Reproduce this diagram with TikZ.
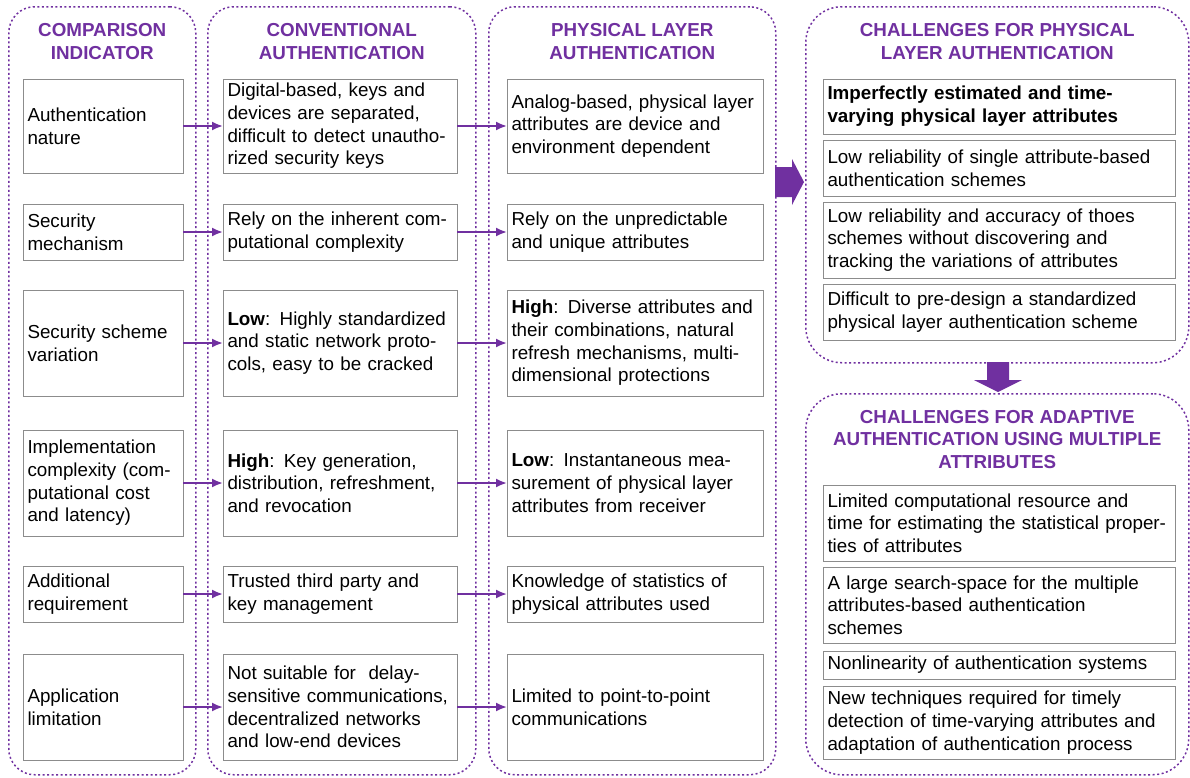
\documentclass[tikz,border=0pt]{standalone}
\usepackage{fontspec}
\setmainfont{Liberation Sans}
\usetikzlibrary{arrows.meta,positioning,calc}
\definecolor{hdpurple}{HTML}{7030A0}
\definecolor{boxgray}{HTML}{8C8C8C}
\newcommand{\cellfont}{\fontsize{18.8}{22.7}\selectfont}
\tikzstyle{cell}=[draw=boxgray, line width=1pt, anchor=north west, align=left,
                  inner xsep=4.5pt, inner ysep=0pt, outer sep=0pt, font=\cellfont]
\tikzstyle{panel}=[draw=hdpurple, line width=1.5pt, dash pattern=on 2pt off 2.5pt,
                   rounded corners=26pt, anchor=north west]
\tikzstyle{head}=[font=\cellfont\bfseries, text=hdpurple, align=center]
\tikzstyle{link}=[draw=hdpurple, line width=2pt, -{Latex[length=11pt,width=9pt]}]
\tikzstyle{block}=[fill=hdpurple]

\begin{document}
\begin{tikzpicture}[x=1pt,y=-1pt]
  \useasboundingbox (0,0) rectangle (1190,777);
  % dotted panels
  \node[panel, minimum width=187pt, minimum height=768pt] (p1) at (8,6) {};
  \node[panel, minimum width=268pt, minimum height=768pt] (p2) at (207,6) {};
  \node[panel, minimum width=287pt, minimum height=768pt] (p3) at (488,6) {};
  \node[panel, rounded corners=36pt, minimum width=383pt, minimum height=356pt] (p4) at (805,6) {};
  \node[panel, rounded corners=36pt, minimum width=383pt, minimum height=381pt] (p5) at (805,393) {};

  \node[head] (h1) at ($(p1.north)+(0,35.5)$) {COMPARISON\\INDICATOR};
  \node[head] (h2) at ($(p2.north)+(0,35.5)$) {CONVENTIONAL\\AUTHENTICATION};
  \node[head] (h3) at ($(p3.north)+(0,35.5)$) {PHYSICAL LAYER\\AUTHENTICATION};
  \node[head] (h4) at ($(p4.north)+(0,35.5)$) {CHALLENGES FOR PHYSICAL\\LAYER AUTHENTICATION};
  \node[head] (h5) at ($(p5.north)+(0,46.5)$) {CHALLENGES FOR ADAPTIVE\\AUTHENTICATION USING MULTIPLE\\ATTRIBUTES};

  % comparison indicators
  \node[cell, text width=151pt, minimum height=94pt] (ci1) at (23,79) {Authentication\\nature};
  \node[cell, text width=151pt, minimum height=56pt] (ci2) at (23,204) {Security\\mechanism};
  \node[cell, text width=151pt, minimum height=106pt] (ci3) at (23,290) {Security scheme\\variation};
  \node[cell, text width=151pt, minimum height=106pt] (ci4) at (23,430) {Implementation\\complexity (com-\\putational cost\\and latency)};
  \node[cell, text width=151pt, minimum height=56pt] (ci5) at (23,566) {Additional\\requirement};
  \node[cell, text width=151pt, minimum height=106pt] (ci6) at (23,654) {Application\\limitation};

  % conventional authentication
  \node[cell, text width=225pt, minimum height=94pt, right=40pt of ci1] (ca1) {Digital-based, keys and\\devices are separated,\\difficult to detect unautho-\\rized security keys};
  \node[cell, text width=225pt, minimum height=56pt, right=40pt of ci2] (ca2) {Rely on the inherent com-\\putational complexity};
  \node[cell, text width=225pt, minimum height=106pt, right=40pt of ci3] (ca3) {\mbox{\textbf{Low}: Highly standardized}\\and static network proto-\\cols, easy to be cracked};
  \node[cell, text width=225pt, minimum height=106pt, right=40pt of ci4] (ca4) {\textbf{High}: Key generation,\\distribution, refreshment,\\and revocation};
  \node[cell, text width=225pt, minimum height=56pt, right=40pt of ci5] (ca5) {Trusted third party and\\key management};
  \node[cell, text width=225pt, minimum height=106pt, right=40pt of ci6] (ca6) {Not suitable for~ delay-\\sensitive communications,\\decentralized networks\\and low-end devices};

  % physical layer authentication
  \node[cell, text width=247pt, minimum height=94pt, right=50pt of ca1] (pa1) {Analog-based, physical layer\\attributes are device and\\environment dependent};
  \node[cell, text width=247pt, minimum height=56pt, right=50pt of ca2] (pa2) {Rely on the unpredictable\\and unique attributes};
  \node[cell, text width=247pt, minimum height=106pt, right=50pt of ca3] (pa3) {\textbf{High}: Diverse attributes and\\their combinations, natural\\refresh mechanisms, multi-\\dimensional protections};
  \node[cell, text width=247pt, minimum height=106pt, right=50pt of ca4] (pa4) {\textbf{Low}: Instantaneous mea-\\surement of physical layer\\attributes from receiver};
  \node[cell, text width=247pt, minimum height=56pt, right=50pt of ca5] (pa5) {Knowledge of statistics of\\physical attributes used};
  \node[cell, text width=247pt, minimum height=106pt, right=50pt of ca6] (pa6) {Limited to point-to-point\\communications};

  \foreach \i in {1,...,6}{
    \draw[link] (ci\i) -- (ca\i);
    \draw[link] (ca\i) -- (pa\i);
  }

  % challenges for physical layer authentication
  \node[cell, text width=343pt, minimum height=55pt, font=\cellfont\bfseries] (cp1) at (823,79) {Imperfectly estimated and time-\\varying physical layer attributes};
  \node[cell, text width=343pt, minimum height=56pt] (cp2) at (823,140) {Low reliability of single attribute-based\\authentication schemes};
  \node[cell, text width=343pt, minimum height=76pt] (cp3) at (823,202) {Low reliability and accuracy of thoes\\schemes without discovering and\\tracking the variations of attributes};
  \node[cell, text width=343pt, minimum height=56pt] (cp4) at (823,284) {Difficult to pre-design a standardized\\physical layer authentication scheme};

  % challenges for adaptive authentication
  \node[cell, text width=343pt, minimum height=76pt] (cm1) at (823,485) {Limited computational resource and\\\mbox{time for estimating the statistical proper-}\\ties of attributes};
  \node[cell, text width=343pt, minimum height=76pt] (cm2) at (823,567) {A large search-space for the multiple\\attributes-based authentication\\schemes};
  \node[cell, text width=343pt, minimum height=28pt] (cm3) at (823,651) {Nonlinearity of authentication systems};
  \node[cell, text width=343pt, minimum height=73pt] (cm4) at (823,686) {New techniques required for timely\\detection of time-varying attributes and\\adaptation of authentication process};

  % block arrows between panels
  \fill[block] (775,167) -- (792,167) -- (792,159) -- (804,182) -- (792,205) -- (792,197) -- (775,197) -- cycle;
  \fill[block] (987,362) -- (1009,362) -- (1009,380) -- (1022,380) -- (998,392) -- (974,380) -- (987,380) -- cycle;
\end{tikzpicture}
\end{document}
